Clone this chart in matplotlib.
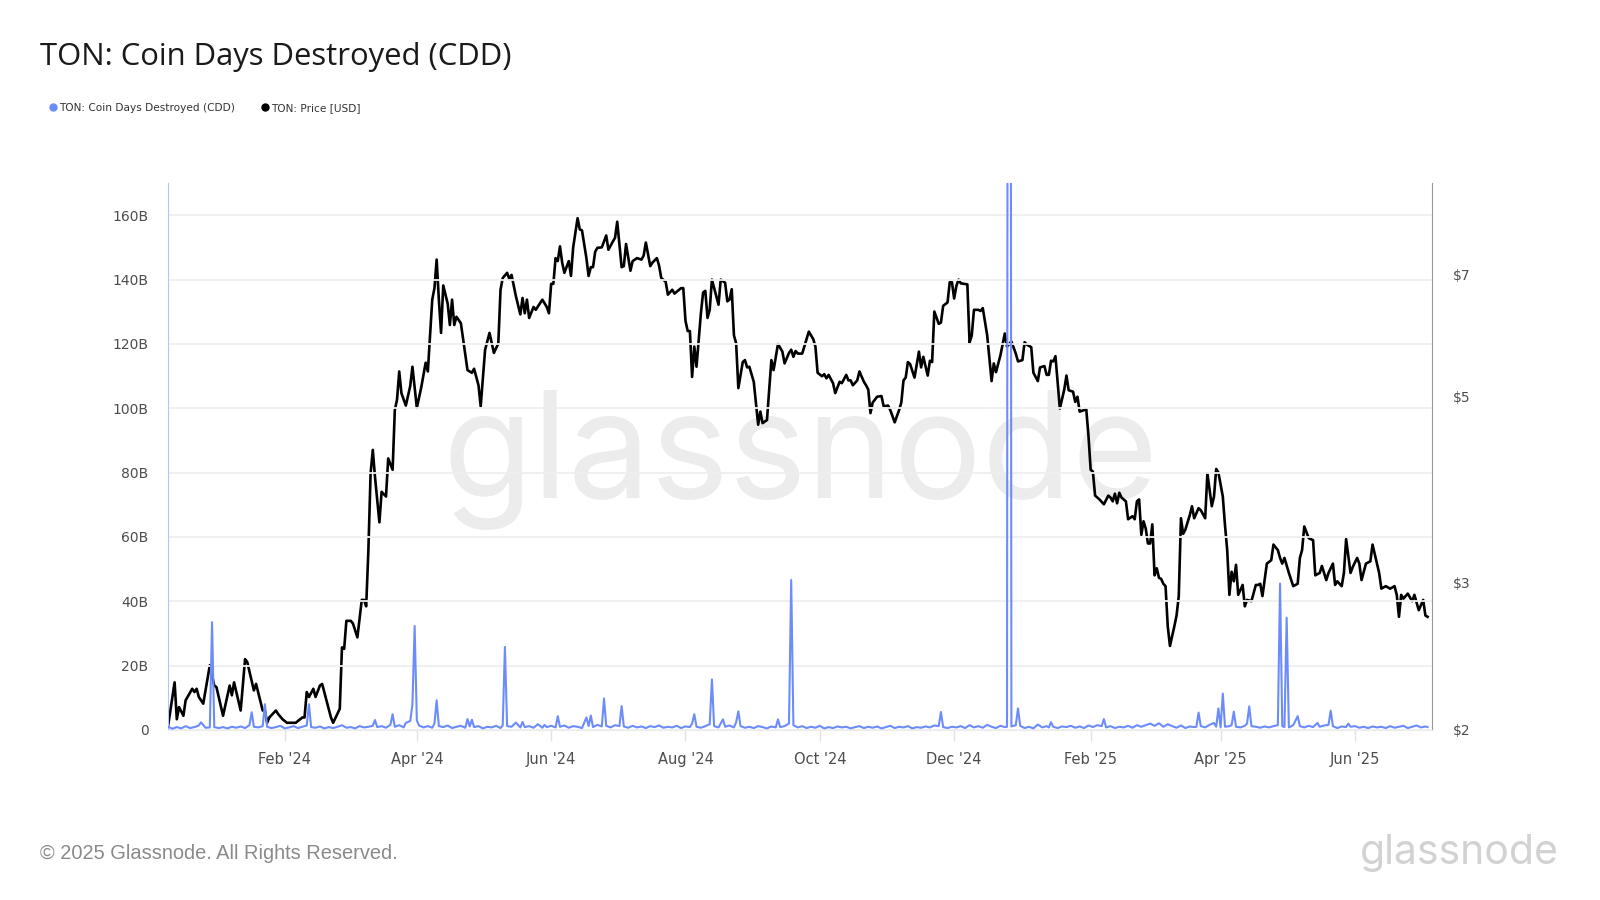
import matplotlib
matplotlib.use("Agg")

import numpy as np
import pandas as pd
import matplotlib.pyplot as plt
import matplotlib.dates as mdates
from matplotlib.lines import Line2D
from matplotlib.ticker import FixedLocator, NullLocator, FuncFormatter

# Series start (day 0) and visible range, in days
START = pd.Timestamp("2023-12-10")
LAST_DAY = 574

# TON price [USD] (day offset from START, price)
price_day = [0, 3, 4, 5, 7, 8, 11, 12, 13, 14, 16, 19, 21, 22, 25, 28, 29, 30, 33, 35,
             36, 39, 40, 43, 44, 45, 46, 49, 50, 52, 54, 58, 61, 62, 63, 64, 66, 67, 69, 70,
             74, 75, 78, 79, 80, 81, 83, 84, 86, 88, 89, 90, 91, 92, 93, 94, 96, 97, 99, 100,
             102, 103, 104, 105, 106, 108, 110, 111, 113, 115, 117, 118, 120, 121, 122, 123, 124, 125, 127, 128,
             129, 130, 131, 133, 136, 138, 139, 141, 142, 144, 146, 148, 150, 151, 152, 154, 155, 156, 158, 160,
             161, 162, 163, 164, 166, 167, 170, 172, 173, 174, 175, 176, 177, 178, 179, 180, 182, 183, 184, 186,
             187, 188, 190, 191, 192, 193, 194, 195, 197, 199, 200, 202, 203, 204, 206, 207, 208, 210, 211, 213,
             215, 216, 217, 219, 220, 222, 223, 224, 226, 227, 229, 230, 233, 234, 235, 236, 237, 238, 239, 240,
             242, 243, 244, 245, 246, 247, 249, 250, 251, 253, 254, 255, 256, 257, 258, 259, 261, 262, 263, 264,
             266, 268, 269, 270, 272, 274, 275, 277, 279, 280, 282, 283, 284, 285, 286, 288, 290, 291, 293, 294,
             295, 297, 298, 299, 300, 302, 303, 305, 306, 308, 309, 310, 311, 313, 314, 316, 317, 318, 319, 320,
             322, 324, 325, 327, 328, 330, 332, 333, 334, 335, 336, 337, 339, 341, 342, 343, 345, 346, 347, 348,
             350, 351, 352, 354, 355, 356, 357, 358, 359, 360, 363, 364, 365, 366, 368, 369, 370, 372, 374, 375,
             376, 378, 380, 381, 383, 385, 386, 388, 389, 390, 392, 393, 395, 396, 398, 399, 400, 401, 402, 403,
             405, 407, 408, 409, 411, 412, 413, 414, 417, 418, 419, 420, 421, 423, 425, 427, 428, 429, 430, 431,
             432, 433, 435, 436, 438, 439, 440, 441, 442, 443, 444, 445, 446, 447, 448, 449, 450, 451, 452, 453,
             454, 455, 457, 458, 459, 460, 461, 462, 464, 465, 466, 468, 469, 471, 472, 474, 475, 476, 477, 479,
             480, 481, 482, 483, 484, 485, 486, 488, 489, 490, 492, 494, 495, 496, 497, 499, 501, 502, 504, 505,
             506, 507, 509, 511, 513, 514, 515, 516, 518, 520, 521, 523, 524, 526, 527, 529, 530, 531, 533, 534,
             535, 537, 538, 540, 541, 542, 544, 546, 547, 549, 550, 551, 553, 555, 557, 558, 559, 560, 561, 563,
             565, 566, 568, 570, 571, 572]
price_usd = [2.02, 2.28, 2.06, 2.13, 2.08, 2.17, 2.24, 2.22, 2.24, 2.19, 2.15, 2.39, 2.26, 2.25, 2.08, 2.26, 2.20, 2.28, 2.11, 2.43,
             2.41, 2.23, 2.27, 2.11, 2.11, 2.04, 2.07, 2.11, 2.09, 2.06, 2.04, 2.04, 2.07, 2.07, 2.22, 2.19, 2.24, 2.19, 2.26, 2.27,
             2.07, 2.04, 2.12, 2.51, 2.50, 2.70, 2.70, 2.68, 2.58, 2.86, 2.86, 2.81, 3.28, 4.05, 4.32, 4.01, 3.54, 3.85, 3.80, 4.22,
             4.09, 4.82, 4.96, 5.36, 5.05, 4.88, 5.15, 5.43, 4.85, 5.13, 5.49, 5.36, 6.53, 6.74, 7.29, 6.53, 5.96, 6.79, 6.46, 6.09,
             6.53, 6.09, 6.23, 6.12, 5.38, 5.34, 5.40, 5.16, 4.87, 5.69, 5.96, 5.64, 5.79, 6.71, 6.93, 7.03, 6.91, 6.99, 6.59, 6.27,
             6.56, 6.29, 6.53, 6.21, 6.40, 6.35, 6.53, 6.40, 6.29, 6.82, 6.82, 7.32, 7.26, 7.56, 7.23, 7.03, 7.26, 6.97, 7.54, 8.17,
             7.92, 7.90, 7.32, 6.97, 7.14, 7.14, 7.45, 7.53, 7.54, 7.79, 7.49, 7.66, 7.74, 8.09, 7.14, 7.16, 7.61, 7.07, 7.26, 7.32,
             7.29, 7.37, 7.64, 7.16, 7.23, 7.32, 7.17, 6.93, 6.86, 6.62, 6.71, 6.64, 6.74, 6.74, 6.16, 5.99, 5.99, 5.28, 5.74, 5.43,
             6.29, 6.66, 6.69, 6.21, 6.35, 6.90, 6.59, 6.44, 6.90, 6.84, 6.50, 6.53, 6.72, 5.92, 5.79, 5.12, 5.50, 5.53, 5.42, 5.43,
             5.21, 4.63, 4.80, 4.65, 4.69, 5.53, 5.38, 5.78, 5.66, 5.48, 5.64, 5.69, 5.58, 5.67, 5.63, 5.63, 5.86, 5.98, 5.86, 5.74,
             5.34, 5.29, 5.32, 5.26, 5.31, 5.19, 5.05, 5.21, 5.19, 5.31, 5.23, 5.23, 5.16, 5.23, 5.36, 5.21, 5.16, 5.10, 4.78, 4.92,
             5.00, 5.01, 4.87, 4.88, 4.82, 4.66, 4.82, 4.92, 5.23, 5.27, 5.50, 5.47, 5.27, 5.66, 5.42, 5.58, 5.30, 5.52, 5.50, 6.32,
             6.11, 6.13, 6.42, 6.48, 6.85, 6.85, 6.55, 6.78, 6.90, 6.83, 6.81, 5.80, 5.92, 6.35, 6.35, 6.33, 6.38, 5.92, 5.22, 5.48,
             5.35, 5.60, 5.95, 5.74, 5.82, 5.63, 5.51, 5.53, 5.81, 5.77, 5.73, 5.34, 5.22, 5.42, 5.44, 5.31, 5.31, 5.52, 5.51, 5.59,
             4.84, 5.10, 5.30, 5.09, 5.07, 4.93, 5.00, 4.80, 4.83, 4.49, 4.09, 4.07, 3.81, 3.77, 3.72, 3.81, 3.79, 3.75, 3.83, 3.73,
             3.84, 3.79, 3.75, 3.57, 3.60, 3.57, 3.75, 3.77, 3.42, 3.55, 3.48, 3.34, 3.34, 3.52, 3.06, 3.12, 3.04, 3.03, 2.99, 2.97,
             2.66, 2.52, 2.66, 2.74, 2.89, 3.58, 3.43, 3.47, 3.61, 3.70, 3.58, 3.68, 3.66, 3.58, 4.05, 3.70, 3.80, 4.10, 4.06, 3.80,
             3.51, 3.28, 2.90, 3.09, 3.01, 3.15, 2.90, 2.98, 2.81, 2.86, 2.85, 2.98, 2.98, 2.99, 2.89, 3.16, 3.19, 3.33, 3.28, 3.21,
             3.16, 3.21, 3.08, 2.97, 2.99, 3.21, 3.28, 3.50, 3.39, 3.37, 3.06, 3.08, 3.14, 3.02, 3.08, 3.16, 2.98, 3.01, 2.97, 3.08,
             3.38, 3.08, 3.13, 3.21, 3.16, 3.02, 3.16, 3.18, 3.33, 3.16, 3.08, 2.95, 2.97, 2.95, 2.97, 2.90, 2.73, 2.90, 2.87, 2.91,
             2.85, 2.90, 2.78, 2.86, 2.74, 2.73]

# Coin Days Destroyed, billions (day offset from START, value)
cdd_day = [0, 2, 4, 6, 8, 10, 12, 14, 15, 17, 19, 20, 21, 23, 25, 27, 29, 31, 33, 35,
           37, 38, 39, 41, 43, 44, 45, 47, 49, 51, 53, 55, 57, 59, 61, 63, 64, 65, 67, 69,
           71, 73, 75, 77, 79, 81, 83, 85, 87, 89, 91, 93, 94, 95, 97, 99, 101, 102, 103, 105,
           107, 108, 110, 111, 112, 113, 114, 116, 118, 120, 121, 122, 123, 125, 127, 129, 131, 133, 135, 136,
           137, 138, 139, 141, 143, 145, 147, 149, 151, 152, 153, 154, 156, 158, 160, 161, 162, 164, 166, 168,
           170, 171, 172, 174, 176, 177, 178, 180, 182, 184, 186, 188, 190, 191, 192, 193, 195, 197, 198, 199,
           201, 203, 205, 206, 207, 209, 211, 213, 215, 217, 219, 221, 223, 225, 227, 229, 231, 233, 235, 237,
           238, 239, 240, 242, 244, 246, 247, 248, 250, 252, 253, 255, 257, 258, 259, 260, 262, 264, 266, 268,
           270, 272, 274, 276, 277, 278, 280, 282, 283, 284, 286, 288, 290, 292, 294, 296, 298, 300, 302, 304,
           306, 308, 310, 312, 314, 316, 318, 320, 322, 324, 326, 328, 330, 332, 334, 336, 338, 340, 342, 344,
           346, 348, 350, 351, 352, 354, 356, 358, 360, 362, 364, 366, 368, 370, 372, 374, 376, 378, 380, 381,
           382, 383, 385, 386, 387, 389, 391, 393, 395, 397, 399, 400, 401, 402, 404, 406, 408, 410, 412, 414,
           416, 418, 420, 422, 424, 425, 426, 428, 430, 432, 434, 436, 438, 440, 442, 444, 446, 448, 450, 452,
           454, 456, 458, 460, 462, 464, 466, 467, 468, 469, 471, 473, 475, 476, 477, 478, 479, 480, 482, 483,
           484, 485, 487, 489, 490, 491, 492, 494, 496, 498, 500, 502, 504, 505, 506, 507, 508, 509, 511, 513,
           514, 516, 518, 520, 522, 523, 525, 527, 528, 529, 531, 533, 535, 536, 537, 539, 541, 543, 545, 547,
           549, 551, 553, 555, 557, 559, 561, 563, 565, 567, 569, 571, 572]
cdd_bn = [1.0, 0.4, 0.9, 0.5, 1.2, 0.6, 0.9, 1.4, 2.4, 0.7, 0.8, 33.5, 0.9, 0.6, 0.9, 0.5, 1.0, 0.7, 1.1, 0.6,
          1.5, 5.5, 1.0, 0.8, 1.2, 8.0, 1.0, 0.6, 0.9, 1.3, 0.5, 0.8, 1.2, 0.6, 1.0, 1.4, 8.0, 0.9, 0.7, 1.1,
          0.5, 0.9, 0.6, 1.0, 1.5, 0.7, 0.9, 0.5, 1.2, 0.8, 1.0, 1.3, 3.1, 0.9, 1.2, 0.7, 1.6, 4.9, 1.0, 1.5,
          0.8, 2.2, 2.8, 8.0, 32.3, 3.0, 1.4, 0.8, 1.2, 0.7, 2.0, 9.2, 1.2, 0.9, 1.4, 0.6, 1.0, 1.3, 0.7, 3.4,
          1.1, 3.2, 0.9, 1.2, 0.5, 1.0, 0.8, 1.3, 0.6, 1.4, 25.8, 1.2, 1.0, 2.3, 0.8, 2.5, 0.9, 1.2, 0.7, 1.8,
          0.7, 1.6, 0.9, 1.3, 0.8, 4.3, 1.0, 1.4, 0.7, 1.2, 1.0, 0.6, 3.9, 1.2, 4.5, 0.9, 1.6, 1.1, 9.8, 1.3,
          0.8, 1.5, 1.2, 7.4, 1.1, 0.7, 1.3, 0.8, 1.1, 0.6, 1.2, 0.9, 1.4, 0.7, 1.0, 0.8, 1.3, 0.6, 1.1, 0.9,
          2.0, 4.9, 1.0, 0.7, 1.2, 1.8, 15.7, 1.2, 0.8, 3.3, 1.0, 1.4, 0.8, 2.4, 5.8, 1.2, 0.7, 1.0, 0.6, 1.2,
          0.9, 0.5, 1.1, 0.8, 3.3, 0.9, 1.2, 2.0, 46.6, 1.5, 0.8, 1.2, 0.6, 1.0, 0.7, 1.3, 0.5, 0.9, 0.6, 1.1,
          0.8, 1.0, 0.5, 0.9, 1.2, 0.6, 1.0, 0.7, 1.1, 0.5, 0.9, 1.3, 0.6, 1.0, 0.8, 1.2, 0.5, 0.9, 0.7, 1.1,
          0.8, 1.4, 1.2, 5.6, 0.9, 0.6, 1.0, 0.8, 1.2, 0.6, 1.5, 0.8, 1.2, 0.7, 1.6, 1.0, 0.6, 1.3, 0.9, 1.0,
          800.0, 1.1, 1.5, 6.7, 1.3, 0.6, 1.0, 0.5, 1.7, 0.8, 1.2, 0.8, 2.4, 1.0, 0.6, 1.1, 0.9, 1.3, 0.7, 1.1,
          0.6, 1.4, 0.9, 1.5, 1.2, 3.4, 0.8, 1.2, 0.6, 1.0, 0.8, 1.3, 0.7, 1.5, 1.0, 1.5, 2.0, 1.3, 2.1, 1.0,
          1.8, 1.2, 0.7, 1.4, 0.6, 1.1, 0.9, 1.0, 5.4, 1.2, 0.8, 1.6, 2.2, 1.0, 6.7, 0.8, 11.3, 1.0, 1.2, 1.5,
          5.7, 1.0, 0.8, 1.3, 2.0, 7.3, 1.2, 1.0, 0.7, 1.1, 0.8, 1.2, 1.5, 45.5, 1.2, 0.9, 34.9, 0.8, 1.5, 4.3,
          1.2, 0.8, 1.3, 0.9, 2.2, 1.0, 1.4, 1.6, 6.0, 1.2, 0.6, 1.1, 0.9, 2.0, 1.0, 1.2, 0.7, 1.0, 0.6, 1.1,
          0.8, 1.0, 0.6, 1.2, 0.7, 1.0, 1.3, 0.6, 1.0, 1.4, 0.8, 1.1, 0.9]

cdd_ticks = [0, 20, 40, 60, 80, 100, 120, 140, 160]
price_ticks = [2, 3, 5, 7]

TITLE = "TON: Coin Days Destroyed (CDD)"
LEGEND = ["TON: Coin Days Destroyed (CDD)", "TON: Price [USD]"]
FOOTER = "\u00a9 2025 Glassnode. All Rights Reserved."

BLUE = "#6c8cfb"
TICK_COLOR = "#4d4d4d"


def to_dates(days):
    return START + pd.to_timedelta(np.asarray(days), unit="D")


price_dates = to_dates(price_day)
cdd_dates = to_dates(cdd_day)

fig = plt.figure(figsize=(16, 9), dpi=100)
ax = fig.add_axes([0.105, 0.1889, 0.79, 0.6078])
ax2 = ax.twinx()
# CDD axis drawn above the price axis
ax.set_zorder(ax2.get_zorder() + 1)
ax.patch.set_visible(False)

# watermark behind everything
ax2.text(0.5, 0.425, "glassnode", transform=ax2.transAxes, ha="center", va="baseline",
         fontsize=106, color="#ececec", family="Inter", zorder=0.5)

ax2.plot(price_dates, price_usd, color="black", lw=1.9, zorder=2)
ax.plot(cdd_dates, cdd_bn, color=BLUE, lw=1.5, zorder=3)

# left axis: CDD
ax.set_ylim(0, 170)
ax.yaxis.set_major_locator(FixedLocator(cdd_ticks))
ax.yaxis.set_major_formatter(FuncFormatter(lambda v, _: "0" if v == 0 else f"{v:.0f}B"))
ax.grid(axis="y", color="#efefef", lw=1.3)
ax.set_axisbelow(True)

# right axis: price, log scale
ax2.set_yscale("log")
ax2.set_ylim(2, 9)
ax2.yaxis.set_major_locator(FixedLocator(price_ticks))
ax2.yaxis.set_minor_locator(NullLocator())
ax2.yaxis.set_major_formatter(FuncFormatter(lambda v, _: f"${v:.0f}"))

ax.set_xlim(START, START + pd.Timedelta(days=LAST_DAY))
ax.xaxis.set_major_locator(mdates.MonthLocator(bymonth=[2, 4, 6, 8, 10, 12]))
ax.xaxis.set_major_formatter(mdates.DateFormatter("%b '%y"))

for s in ["top", "right"]:
    ax.spines[s].set_visible(False)
for s in ["top", "left", "bottom"]:
    ax2.spines[s].set_visible(False)
ax.spines["left"].set_color("#b4c3fd")
ax.spines["bottom"].set_color("#ececec")
ax2.spines["right"].set_color("#9a9a9a")

ax.tick_params(axis="y", length=0, pad=14, labelsize=10, labelcolor=TICK_COLOR)
ax.tick_params(axis="x", length=8, width=1, color="#e3e3e3", pad=8, labelsize=10.5,
               labelcolor=TICK_COLOR)
ax2.tick_params(axis="y", length=0, pad=15, labelsize=10, labelcolor=TICK_COLOR)

# title, legend, footer
fig.text(0.025, 0.937, TITLE, fontsize=22.3, color="#1a1a1a", va="center", family="Open Sans")

handles = [Line2D([], [], ls="", marker="o", ms=5, color=BLUE),
           Line2D([], [], ls="", marker="o", ms=5, color="black")]
fig.legend(handles, LEGEND, loc="center left", bbox_to_anchor=(0.024, 0.88), ncol=2,
           frameon=False, fontsize=7.6, handletextpad=0.1, columnspacing=2.3,
           labelcolor="#333333", handlelength=1.0)

fig.text(0.025, 0.052, FOOTER, fontsize=14.4, color="#8a8a8a", va="center",
         family="Liberation Sans")
fig.text(0.974, 0.052, "glassnode", fontsize=29.5, color="#d2d2d2", va="center", ha="right",
         family="Inter")

fig.savefig("out.png", dpi=100)
